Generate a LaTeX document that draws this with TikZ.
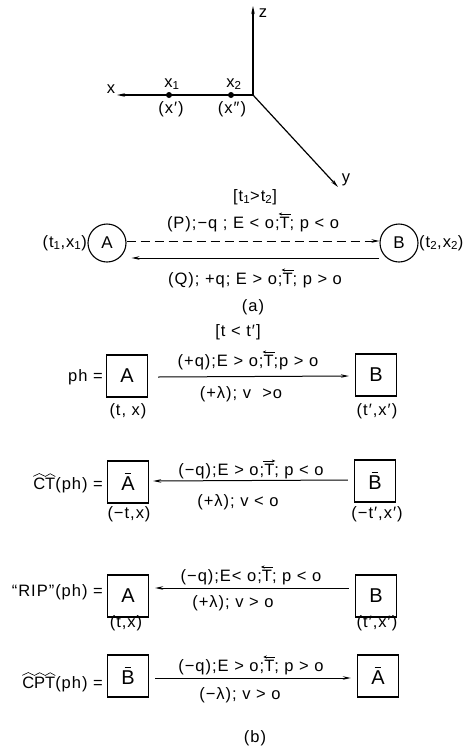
\documentclass[tikz,border=0pt]{standalone}
\usepackage{fontspec}
\setmainfont{Liberation Sans}[LetterSpace=6]
\usetikzlibrary{arrows.meta,calc}
\newdimen\hatw
\newcommand\Tarrow[1]{\setbox0\hbox{T}\hatw=\wd0\advance\hatw by 2pt\vbox{\offinterlineskip\hbox to\wd0{\hss\tikz[line width=0.7pt]\draw[#1] (0pt,0pt)--(\hatw,0pt);\hss}\kern1.3pt\box0}}
\newcommand\Tl{\Tarrow{{Stealth[length=3.5pt,width=3pt]}-}}
\newcommand\Tr{\Tarrow{-{Stealth[length=3.5pt,width=3pt]}}}
\newcommand\hatl[1]{\setbox0\hbox{#1}\hatw=\wd0\vbox{\offinterlineskip\hbox to\wd0{\hss\tikz[line width=0.6pt]\draw (0pt,0pt)--(0.5*\hatw,2.8pt)--(\hatw,0pt);\hss}\kern1.2pt\box0}}
\newcommand\barl[1]{\setbox0\hbox{#1}\vbox{\offinterlineskip\hbox to\wd0{\hss\rule{0.5\wd0}{1pt}\hss}\kern2.5pt\box0}}
\begin{document}
\begin{tikzpicture}[x=1pt,y=-1pt,
  every node/.style={font=\fontsize{16.5}{18}\selectfont, inner sep=1pt},
  arr/.style={-{Stealth[length=8pt,width=3.5pt]}, line width=1pt},
  axis/.style={-{Stealth[length=8pt,width=3.5pt]}, line width=1.2pt},
  circ/.style={draw, circle, line width=1.1pt, minimum size=38pt, inner sep=0pt, font=\fontsize{17}{19}\selectfont},
  box/.style={draw, line width=1.3pt, minimum width=41pt, minimum height=42pt, inner sep=0pt, font=\fontsize{20}{22}\selectfont},
  dot/.style={fill, circle, minimum size=6pt, inner sep=0pt},
  lbl/.style={anchor=center}]
\useasboundingbox (0,0) rectangle (474,753);

% ---- axes ----
\coordinate (O) at (253,95);
\coordinate (Xe) at (117,95);
\coordinate (Ze) at (253,6);
\coordinate (Ye) at (338,187);
\draw[axis] (O) -- (Xe);
\draw[axis] (O) -- (Ze);
\draw[axis] (O) -- (Ye);
\node[lbl] (xl) at (111,89) {x};
\node[lbl] (zl) at (263,13) {z};
\node[lbl] (yl) at (346,180) {y};
\node[dot] (d1) at (169,95) {};
\node[dot] (d2) at (231,95) {};
\node[lbl] (x1l) at (172,84) {x\textsubscript{1}};
\node[lbl] (x2l) at (234,84) {x\textsubscript{2}};
\node[lbl] (x1p) at (171,109) {(x′)};
\node[lbl] (x2p) at (232,109) {(x″)};

% ---- (a) ----
\node[lbl] (ta) at (255,197) {[t\textsubscript{1}>t\textsubscript{2}]};
\node[circ] (A) at (107,243) {A};
\node[circ] (B) at (399,243) {B};
\node[lbl, anchor=east] (Al) at (88,243) {(t\textsubscript{1},x\textsubscript{1})};
\node[lbl, anchor=west] (Bl) at (418,243) {(t\textsubscript{2},x\textsubscript{2})};
\node[lbl] (Pl) at (253,222) {(P);−q ; E < o;\Tl; p < o};
\node[lbl] (Ql) at (255,278) {(Q); +q; E > o;\Tl; p > o};
\draw[arr, dash pattern=on 9pt off 5pt] ([yshift=2pt]A.east) -- ([yshift=2pt]B.west);
\draw[arr] ([yshift=-15pt]B.west) -- ([shift={(5pt,-15pt)}]A.east);
\node[lbl] (al) at (253,307) {(a)};

% ---- (b) row 1 ----
\node[lbl] (tb) at (238,332) {[t < t′]};
\node[box] (A1) at (127,376) {A};
\node[box] (B1) at (376,375) {B};
\node[lbl, anchor=east] (ph1) at (104,377) {ph =};
\node[lbl] (A1l) at (128,411) {(t, x)};
\node[lbl] (B1l) at (377,411) {(t′,x′)};
\node[lbl] (u1) at (248,360) {(+q);E > o;\Tl;p > o};
\node[lbl] (l1) at (241,394) {(+λ); v \ >o};
\draw[arr] ($(A1.east)+(10pt,-1pt)$) -- ($(B1.west)+(-6pt,-1pt)$);

% ---- row 2 ----
\node[box] (A2) at (128,482) {\barl{A}};
\node[box] (B2) at (375,481) {\barl{B}};
\node[lbl, anchor=east] (ph2) at (104,483) {\hatl{C}\hatl{T}(ph) =};
\node[lbl] (A2l) at (129,514) {(−t,x)};
\node[lbl] (B2l) at (377,514) {(−t′,x′)};
\node[lbl] (u2) at (251,469) {(−q);E > o;\Tr; p < o};
\node[lbl] (l2) at (238,502) {(+λ); v < o};
\draw[arr] ($(B2.west)+(-6pt,1pt)$) -- ($(A2.east)+(4pt,1pt)$);

% ---- row 3 ----
\node[box] (A3) at (128,596) {A};
\node[box] (B3) at (376,596) {B};
\node[lbl, anchor=east] (ph3) at (104,592) {``RIP''(ph) =};
\node[lbl] (A3l) at (126,623) {(t,x)};
\node[lbl] (B3l) at (377,623) {(t′,x′)};
\node[lbl] (u3) at (251,575) {(−q);E< o;\Tl; p < o};
\node[lbl] (l3) at (233,603) {(+λ); v > o};
\draw[arr] ($(B3.west)+(-6pt,8pt)$) -- ($(A3.east)+(6pt,8pt)$);

% ---- row 4 ----
\node[box] (A4) at (128,676) {\barl{B}};
\node[box] (B4) at (378,676) {\barl{A}};
\node[lbl, anchor=east] (ph4) at (104,682) {\hatl{C}\hatl{P}\hatl{T}(ph) =};
\node[lbl] (u4) at (251,665) {(−q);E > o;\Tl; p > o};
\node[lbl] (l4) at (240,695) {(−λ); v > o};
\draw[arr] ($(A4.east)+(6pt,-2pt)$) -- ($(B4.west)+(-6pt,-2pt)$);
\node[lbl] (bl) at (255,738) {(b)};
\end{tikzpicture}
\end{document}
